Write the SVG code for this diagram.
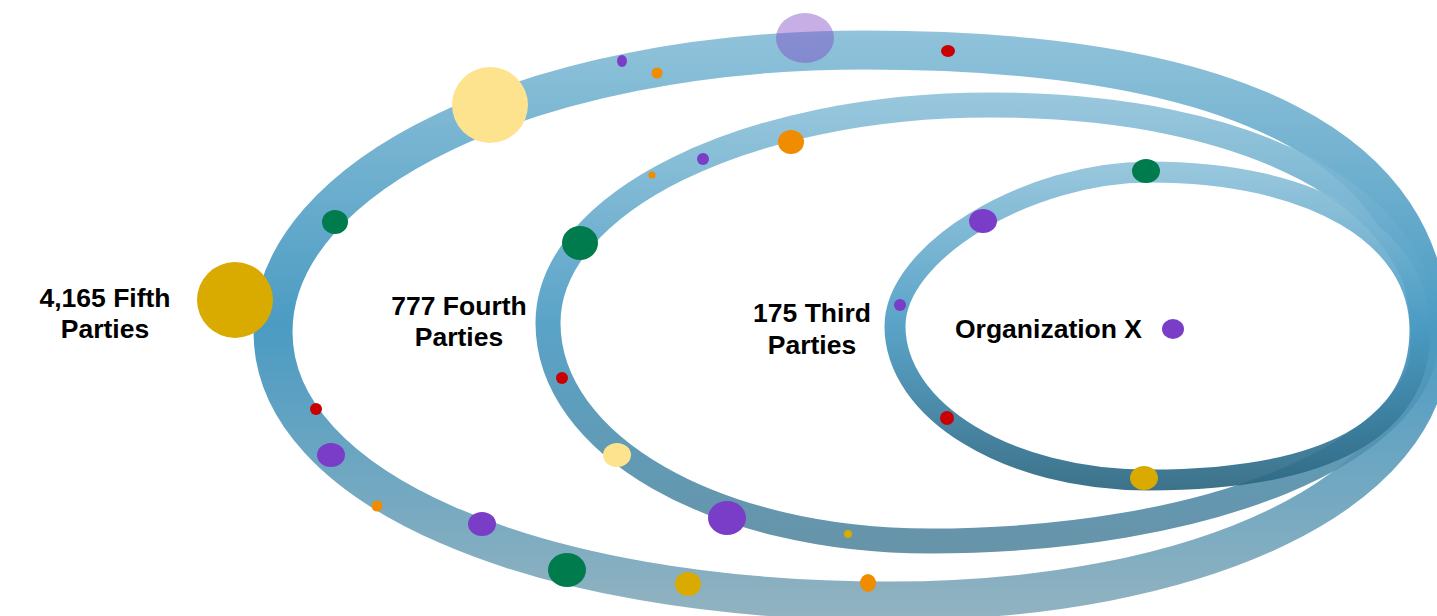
<svg xmlns="http://www.w3.org/2000/svg" width="1437" height="616" viewBox="0 0 1437 616">
<defs>
<linearGradient id="g1" gradientUnits="userSpaceOnUse" x1="0" y1="30" x2="0" y2="622">
<stop offset="0" stop-color="#91c3da"/><stop offset="0.5" stop-color="#4b9bc3"/><stop offset="1" stop-color="#93b3c0"/>
</linearGradient>
<linearGradient id="g2" gradientUnits="userSpaceOnUse" x1="0" y1="93" x2="0" y2="555">
<stop offset="0" stop-color="#91c3da"/><stop offset="0.5" stop-color="#4b9bc3"/><stop offset="1" stop-color="#5a8aa0"/>
</linearGradient>
<linearGradient id="g3" gradientUnits="userSpaceOnUse" x1="0" y1="162" x2="0" y2="490">
<stop offset="0" stop-color="#91c3da"/><stop offset="0.5" stop-color="#4b9bc3"/><stop offset="1" stop-color="#2c6680"/>
</linearGradient>
<style>
.ring{fill:none}
.lbl{font-family:"Liberation Sans",Arial,sans-serif;font-weight:bold;font-size:26.5px;fill:#000}
.pu{fill:#7a3dc8}.gr{fill:#007b4d}.or{fill:#ef8c00}.rd{fill:#c80000}.gd{fill:#d9aa00}.ly{fill:#fde38d}
</style>
</defs>
<rect width="1437" height="616" fill="#ffffff"/>
<g id="ring-fifth">
<path class="ring" stroke="url(#g1)" stroke-width="39" d="M273,332 C273,174.1 533.5,50 865,50 C1237.9,50 1430,148.6 1430,340 C1430,491.4 1203.2,601 890,601 C532.1,601 273,488 273,332 Z"/>
<ellipse cx="805" cy="38" rx="29" ry="25" fill="#7e46c6" opacity="0.43"/>
<circle class="ly" cx="490" cy="105" r="38"/>
<circle class="gd" cx="235" cy="300" r="38"/>
<ellipse class="pu" cx="622" cy="61" rx="5" ry="6"/>
<circle class="or" cx="657" cy="73" r="5.5"/>
<ellipse class="rd" cx="948" cy="51" rx="7" ry="6"/>
<ellipse class="gr" cx="335" cy="222" rx="13" ry="12"/>
<circle class="rd" cx="316" cy="409" r="6"/>
<ellipse class="pu" cx="331" cy="455" rx="14" ry="12"/>
<circle class="or" cx="377" cy="506" r="5.5"/>
<ellipse class="pu" cx="482" cy="524" rx="14" ry="12"/>
<ellipse class="gr" cx="567" cy="570" rx="19" ry="17"/>
<ellipse class="gd" cx="688" cy="584" rx="13" ry="12"/>
<ellipse class="or" cx="868" cy="583" rx="8" ry="9"/>
<text class="lbl" x="105" y="307" text-anchor="middle">4,165 Fifth</text>
<text class="lbl" x="105" y="338" text-anchor="middle">Parties</text>
</g>
<g id="ring-fourth">
<path class="ring" stroke="url(#g2)" stroke-width="25" opacity="0.92" d="M548,323 C548,202.7 746,105 990,105 C1251.6,105 1426,197.8 1426,337 C1426,451.2 1207.8,541 930,541 C716.1,541 548,445.1 548,323 Z"/>
<ellipse class="or" cx="791" cy="142" rx="13" ry="12"/>
<circle class="pu" cx="703" cy="159" r="6"/>
<circle class="or" cx="652" cy="175" r="3.5"/>
<ellipse class="gr" cx="580" cy="243" rx="18" ry="17"/>
<circle class="rd" cx="562" cy="378" r="6"/>
<ellipse class="ly" cx="617" cy="455" rx="14" ry="12"/>
<ellipse class="pu" cx="727" cy="518" rx="19" ry="17"/>
<circle class="gd" cx="848" cy="534" r="4"/>
<text class="lbl" x="459" y="315" text-anchor="middle">777 Fourth</text>
<text class="lbl" x="459" y="346" text-anchor="middle">Parties</text>
</g>
<g id="ring-third">
<path class="ring" stroke="url(#g3)" stroke-width="21" opacity="0.92" d="M895,326 C895,252.1 1027.6,172 1150,172 C1312,172 1420,235.2 1420,330 C1420,429 1327,480 1148,480 C1008.3,480 895,411 895,326 Z"/>
<ellipse class="gr" cx="1146" cy="171" rx="14" ry="12"/>
<ellipse class="pu" cx="983" cy="221" rx="14" ry="12"/>
<circle class="pu" cx="900" cy="305" r="6"/>
<circle class="rd" cx="947" cy="418" r="7"/>
<ellipse class="gd" cx="1144" cy="478" rx="14" ry="12"/>
<text class="lbl" x="812" y="322" text-anchor="middle">175 Third</text>
<text class="lbl" x="812" y="354" text-anchor="middle">Parties</text>
</g>
<g id="org-x">
<text class="lbl" x="955" y="338">Organization X</text>
<ellipse class="pu" cx="1173" cy="329" rx="11" ry="10"/>
</g>
</svg>
